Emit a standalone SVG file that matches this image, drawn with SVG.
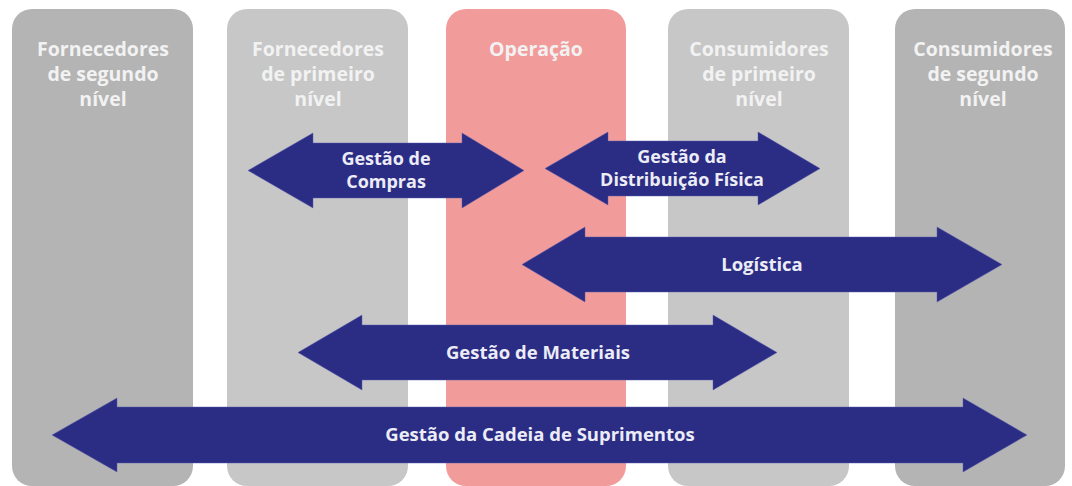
<svg xmlns="http://www.w3.org/2000/svg" width="1072" height="486" viewBox="0 0 1072 486">
<style>
.dark{fill:#b4b4b4}
.light{fill:#c7c7c7}
.op{fill:#f29b9b}
.hd{font-family:"Open Sans","Noto Sans","Liberation Sans",sans-serif;font-weight:700;font-size:19.5px;fill:#f2f2f2;text-anchor:middle}
.arr{fill:#2b2c83;stroke:#5a5cae;stroke-width:0.8;stroke-opacity:0.6}
.al{font-family:"Open Sans","Noto Sans","Liberation Sans",sans-serif;font-weight:700;font-size:18.5px;fill:#ececf6;text-anchor:middle}
.al2{font-size:18px}
</style>
<rect width="1072" height="486" fill="#ffffff"/>
<g id="fornecedores-segundo">
<rect class="dark" x="12" y="9" width="181" height="477" rx="20"/>
<text class="hd" x="103" y="56">Fornecedores</text>
<text class="hd" x="103" y="81">de segundo</text>
<text class="hd" x="103" y="106">nível</text>
</g>
<g id="fornecedores-primeiro">
<rect class="light" x="227" y="9" width="181" height="477" rx="20"/>
<text class="hd" x="318" y="56">Fornecedores</text>
<text class="hd" x="318" y="81">de primeiro</text>
<text class="hd" x="318" y="106">nível</text>
</g>
<g id="operacao">
<rect class="op" x="446" y="9" width="180" height="477" rx="20"/>
<text class="hd" x="536" y="56">Operação</text>
</g>
<g id="consumidores-primeiro">
<rect class="light" x="668" y="9" width="181" height="477" rx="20"/>
<text class="hd" x="759" y="56">Consumidores</text>
<text class="hd" x="759" y="81">de primeiro</text>
<text class="hd" x="759" y="106">nível</text>
</g>
<g id="consumidores-segundo">
<rect class="dark" x="895" y="9" width="170" height="477" rx="20"/>
<text class="hd" x="983" y="56">Consumidores</text>
<text class="hd" x="983" y="81">de segundo</text>
<text class="hd" x="983" y="106">nível</text>
</g>
<g id="connectors">
<g id="gestao-compras">
<polygon class="arr" points="248,170.5 313,133 313,143 462,143 462,133 524,170.5 462,208 462,198 313,198 313,208"/>
<text class="al al2" x="386" y="165">Gestão de</text>
<text class="al al2" x="386" y="188">Compras</text>
</g>
<g id="gestao-distribuicao">
<polygon class="arr" points="545,168.5 608,132 608,141 758,141 758,132 820,168.5 758,205 758,196 608,196 608,205"/>
<text class="al al2" x="682" y="163">Gestão da</text>
<text class="al al2" x="682" y="186">Distribuição Física</text>
</g>
<g id="logistica">
<polygon class="arr" points="522,264.5 585,227 585,237 937,237 937,227 1002,264.5 937,302 937,292 585,292 585,302"/>
<text class="al" x="762" y="271">Logística</text>
</g>
<g id="gestao-materiais">
<polygon class="arr" points="298,352.5 362,315 362,325 713,325 713,315 777,352.5 713,390 713,380 362,380 362,390"/>
<text class="al" x="538" y="359">Gestão de Materiais</text>
</g>
<g id="gestao-cadeia">
<polygon class="arr" points="52,435 117,398 117,407 963,407 963,398 1027,435 963,472 963,463 117,463 117,472"/>
<text class="al" x="540" y="441">Gestão da Cadeia de Suprimentos</text>
</g>
</g>
</svg>
